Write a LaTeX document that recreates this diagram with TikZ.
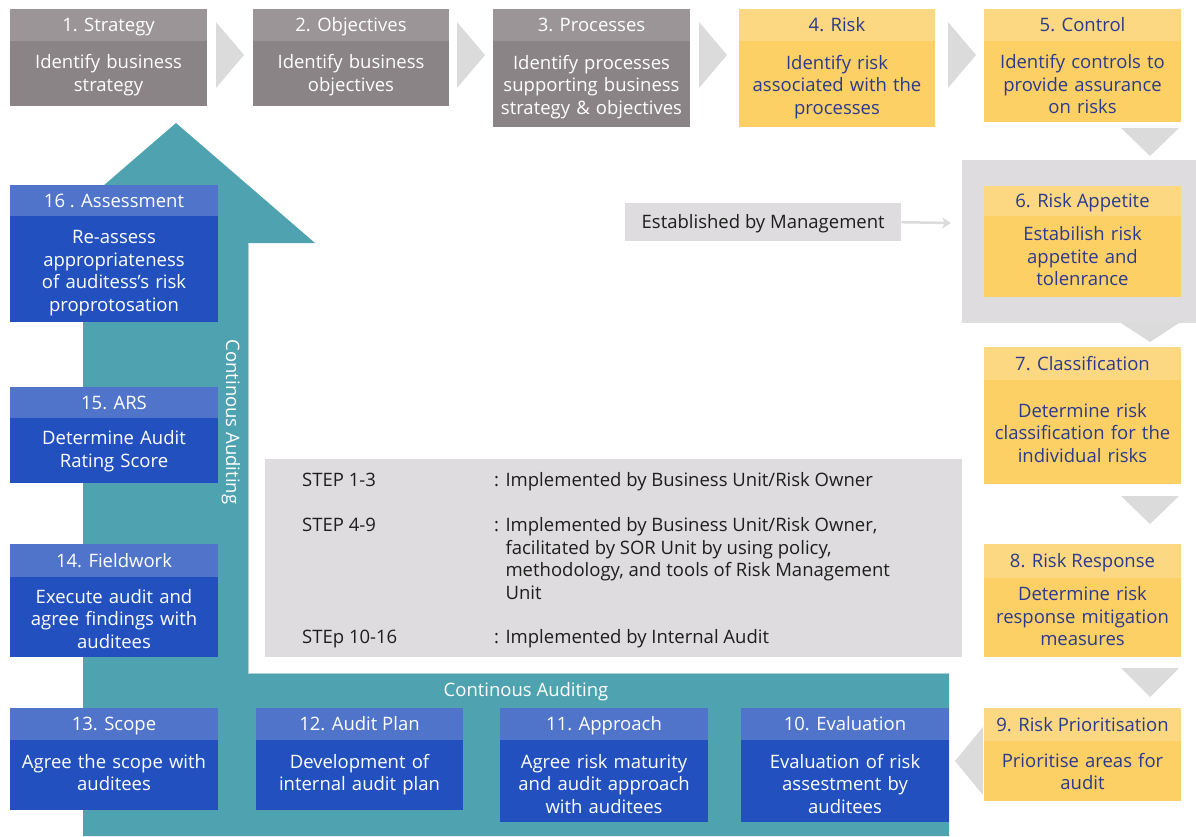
\documentclass[tikz,border=0pt]{standalone}
\usepackage{fontspec}
\setmainfont{Open Sans}
\usetikzlibrary{arrows.meta}
\definecolor{grayH}{RGB}{155,149,151}
\definecolor{grayB}{RGB}{138,132,134}
\definecolor{yelH}{RGB}{253,216,130}
\definecolor{yelB}{RGB}{253,208,102}
\definecolor{yelT}{RGB}{43,58,140}
\definecolor{bluH}{RGB}{79,116,201}
\definecolor{bluB}{RGB}{34,81,191}
\definecolor{tealA}{RGB}{79,163,176}
\definecolor{tealL}{RGB}{170,210,216}
\definecolor{lgray}{RGB}{222,220,222}
\definecolor{chevC}{RGB}{220,219,220}
\definecolor{darkT}{RGB}{30,30,30}
\def\bshift{0}
\newcommand\stepbx[9]{%
 \pgfmathsetmacro\stepTW{#5-14}%
 \node[#2h, minimum width=#5pt, minimum height=#7pt] (#1h) at (#3,#4) {#8};
 \node[#2b, minimum width=#5pt, minimum height=#6pt] (#1) at (#1h.south west) {};
 \node[#2t, text width=\stepTW pt, yshift=-\bshift pt] (#1t) at (#1.center) {\strut #9\strut};
}
\begin{document}
\begin{tikzpicture}[x=1pt,y=-1pt,
  fnt/.style={font=\fontsize{18.5}{22.5}\selectfont},
  hd/.style={fnt, anchor=north west, inner sep=0pt, outer sep=0pt, text height=13.2pt, text depth=0pt},
  bd/.style={anchor=north west, inner sep=0pt, outer sep=0pt},
  bt/.style={fnt, inner sep=0pt, align=center},
  grayh/.style={hd, fill=grayH, text=white},
  grayb/.style={bd, fill=grayB},
  grayt/.style={bt, text=white},
  yelh/.style={hd, fill=yelH, text=yelT},
  yelb/.style={bd, fill=yelB},
  yelt/.style={bt, text=yelT},
  bluh/.style={hd, fill=bluH, text=white},
  blub/.style={bd, fill=bluB},
  blut/.style={bt, text=white},
  chev/.style={fill=chevC},
  lt/.style={fnt, anchor=base west, inner sep=0pt, text=darkT},
  cont/.style={fnt, text=white, inner sep=0pt}]
\useasboundingbox (0,0) rectangle (1196,836);
\fill[white] (0,0) rectangle (1196,836);

% teal continuous-auditing arrow
\fill[tealA] (83,836) -- (83,243) -- (37,243) -- (176,123) -- (315,243) -- (248,243)
  -- (248,673) -- (949,673) -- (949,836) -- cycle;
\draw[tealL, line width=0.8pt] (248,243) -- (248,673) -- (949,673);
\node[cont, rotate=-90] (ca1) at (231,422) {Continous Auditing};
\node[cont, text height=13.2pt, text depth=0pt] (ca2) at (526,690) {Continous Auditing};

% top row
\def\bshift{2}
\stepbx{s1}{gray}{10}{9}{197}{65}{32}{1. Strategy}{Identify business\\strategy}
\stepbx{s2}{gray}{253}{9}{196}{65}{32}{2. Objectives}{Identify business\\objectives}
\def\bshift{3}
\stepbx{s3}{gray}{493}{9}{197}{86}{32}{3. Processes}{Identify processes\\supporting business\\strategy \& objectives}
\stepbx{s4}{yel}{739}{9}{196}{86}{32}{4. Risk}{Identify risk\\associated with the\\processes}
\def\bshift{5}
\stepbx{s5}{yel}{984}{9}{197}{81}{32}{5. Control}{Identify controls to\\provide assurance\\on risks}

\fill[chev] (216,22) -- (244,55) -- (216,88) -- cycle;
\fill[chev] (457,22) -- (485,55) -- (457,88) -- cycle;
\fill[chev] (699,22) -- (727,55) -- (699,88) -- cycle;
\fill[chev] (948,22) -- (976,55) -- (948,88) -- cycle;

% right column
\fill[chev] (1121,128) -- (1179,128) -- (1150,156) -- cycle;
\fill[lgray] (962,160) rectangle (1196,323);
\fill[chev] (1121,323) -- (1179,323) -- (1150,342) -- cycle;
\def\bshift{2}
\stepbx{s6}{yel}{984}{186}{197}{81}{30}{6. Risk Appetite}{Estabilish risk\\appetite and\\tolenrance}
\def\bshift{3}
\stepbx{s7}{yel}{984}{347}{197}{104}{33}{7. Classification}{Determine risk\\classification for the\\individual risks}
\fill[chev] (1121,496) -- (1179,496) -- (1150,524) -- cycle;
\def\bshift{1}
\stepbx{s8}{yel}{984}{544}{197}{79}{34}{8. Risk Response}{Determine risk\\response mitigation\\measures}
\fill[chev] (1121,668) -- (1179,668) -- (1150,697) -- cycle;
\def\bshift{3}
\stepbx{s9}{yel}{984}{708}{197}{60}{33}{9. Risk Prioritisation}{Prioritise areas for\\audit}
\fill[chev] (983,727) -- (983,795) -- (955,761) -- cycle;

% established by management
\node[fnt, fill=lgray, text=darkT, anchor=north west, inner sep=0pt, text height=13.2pt, text depth=0pt,
  minimum width=276pt, minimum height=38pt] (est) at (625,203) {Established by Management};
\coordinate (estend) at (951,223);
\draw[chevC, line width=2.5pt, -{Stealth[length=9pt,width=11pt]}] (est.east) -- (estend);

% bottom row
\def\bshift{5}
\stepbx{s10}{blu}{741}{708}{208}{82}{32}{10. Evaluation}{Evaluation of risk\\assestment by\\auditees}
\stepbx{s11}{blu}{500}{708}{208}{82}{32}{11. Approach}{Agree risk maturity\\and audit approach\\with auditees}
\def\bshift{0}
\stepbx{s12}{blu}{256}{708}{207}{70}{32}{12. Audit Plan}{Development of\\internal audit plan}
\stepbx{s13}{blu}{10}{708}{208}{70}{32}{13. Scope}{Agree the scope with\\auditees}

% left column
\def\bshift{4}
\stepbx{s14}{blu}{10}{544}{208}{80}{33}{14. Fieldwork}{Execute audit and\\agree findings with\\auditees}
\def\bshift{1}
\stepbx{s15}{blu}{10}{387}{208}{65}{31}{15. ARS}{Determine Audit\\Rating Score}
\def\bshift{4}
\stepbx{s16}{blu}{10}{185}{208}{106}{31}{16 . Assessment}{Re-assess\\appropriateness\\of auditess’s risk\\proprotosation}

% legend panel
\fill[lgray] (265,459) rectangle (962,657);
\node[lt] (l1a) at (302,486.5) {STEP 1-3};
\node[lt] (l1b) at (494,486.5) {: Implemented by Business Unit/Risk Owner};
\node[lt] (l2a) at (302,531.5) {STEP 4-9};
\node[lt] (l2b) at (494,531.5) {: Implemented by Business Unit/Risk Owner,};
\node[lt] (l2c) at (494,554) {\hphantom{: }facilitated by SOR Unit by using policy,};
\node[lt] (l2d) at (494,576.5) {\hphantom{: }methodology, and tools of Risk Management};
\node[lt] (l2e) at (494,599) {\hphantom{: }Unit};
\node[lt] (l3a) at (302,643.5) {STEp 10-16};
\node[lt] (l3b) at (494,643.5) {: Implemented by Internal Audit};
\end{tikzpicture}
\end{document}
